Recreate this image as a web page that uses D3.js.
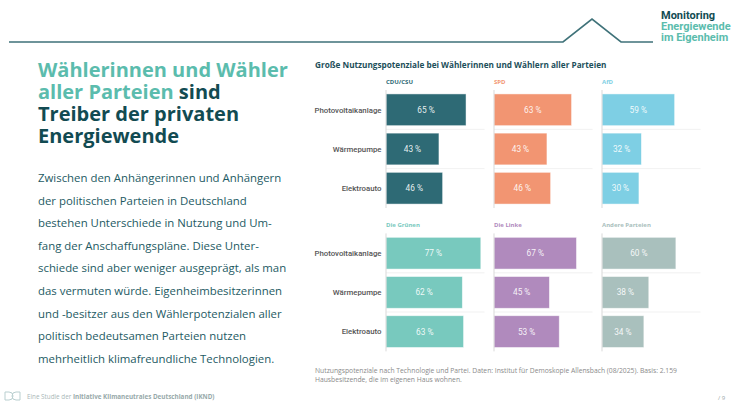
<!DOCTYPE html>
<html>
<head>
  <meta charset="utf-8">
  <title>Monitoring Energiewende im Eigenheim</title>
  <script src="https://d3js.org/d3.v7.min.js"></script>
  <style>
    body { margin: 0; background: #fff; }
    svg { display: block; }
  </style>
</head>
<body>
  <svg width="750" height="409"></svg>
  <script>
    // data
    const technologies = ["Photovoltaikanlage", "Wärmepumpe", "Elektroauto"];
    const parties = ["CDU/CSU", "SPD", "AfD", "Die Grünen", "Die Linke", "Andere Parteien"];
    const partyColors = ["#2e6a75", "#f29572", "#7ecfe4", "#78c9be", "#b08abd", "#a9c0bd"];
    const cduValues = [65, 43, 46];
    const spdValues = [63, 43, 46];
    const afdValues = [59, 32, 30];
    const greenValues = [77, 62, 63];
    const linkeValues = [67, 45, 53];
    const otherValues = [60, 38, 34];
    const seriesValues = [cduValues, spdValues, afdValues, greenValues, linkeValues, otherValues];

    const titleLines = [
      [["Wählerinnen und Wähler", "#5bbcad"]],
      [["aller Parteien ", "#5bbcad"], ["sind", "#124b52"]],
      [["Treiber der privaten", "#124b52"]],
      [["Energiewende", "#124b52"]]
    ];
    const bodyLines = [
      "Zwischen den Anhängerinnen und Anhängern",
      "der politischen Parteien in Deutschland",
      "bestehen Unterschiede in Nutzung und Um-",
      "fang der Anschaffungspläne. Diese Unter-",
      "schiede sind aber weniger ausgeprägt, als man",
      "das vermuten würde. Eigenheimbesitzerinnen",
      "und -besitzer aus den Wählerpotenzialen aller",
      "politisch bedeutsamen Parteien nutzen",
      "mehrheitlich klimafreundliche Technologien."
    ];
    const chartTitle = "Große Nutzungspotenziale bei Wählerinnen und Wählern aller Parteien";
    const noteLines = [
      "Nutzungspotenziale nach Technologie und Partei. Daten: Institut für Demoskopie Allensbach (08/2025). Basis: 2.159",
      "Hausbesitzende, die im eigenen Haus wohnen."
    ];

    const svg = d3.select("svg");

    // header line with the little roof
    svg.append("path")
      .attr("d", "M9,42 L563,42 L592,19 L621,42 L653,42")
      .attr("fill", "none")
      .attr("stroke", "#3f7279")
      .attr("stroke-width", 1.6);

    const logo = svg.append("g")
      .attr("font-family", "Roboto, sans-serif")
      .attr("font-weight", 700)
      .attr("font-size", 11);
    logo.append("text").attr("x", 661).attr("y", 18.5).attr("fill", "#124b52").text("Monitoring");
    logo.append("text").attr("x", 661).attr("y", 29.5).attr("fill", "#5bbcad").text("Energiewende");
    logo.append("text").attr("x", 661).attr("y", 40.5).attr("fill", "#5bbcad").text("im Eigenheim");

    // left headline
    const head = svg.append("g")
      .attr("font-family", "'Open Sans', sans-serif")
      .attr("font-weight", 700)
      .attr("font-size", 20);
    titleLines.forEach((parts, i) => {
      const t = head.append("text").attr("x", 38).attr("y", 76.5 + i * 22.3);
      parts.forEach(p => t.append("tspan").attr("fill", p[1]).text(p[0]));
    });

    // body text
    svg.append("g")
      .attr("font-family", "'Open Sans', sans-serif")
      .attr("font-size", 11.4)
      .attr("fill", "#1d5a63")
      .selectAll("text")
      .data(bodyLines)
      .join("text")
      .attr("x", 38)
      .attr("y", (d, i) => 182 + i * 22.6)
      .text(d => d);

    // chart title
    svg.append("text")
      .attr("x", 315)
      .attr("y", 68)
      .attr("font-family", "'Open Sans', sans-serif")
      .attr("font-weight", 700)
      .attr("font-size", 8.2)
      .attr("fill", "#1d4f5a")
      .text(chartTitle);

    // small multiples
    const x = d3.scaleLinear().domain([0, 80]).range([0, 98.5]);
    const colX = d3.scalePoint().domain([0, 1, 2]).range([386, 602]);
    const rowTop = [90, 233.4];

    seriesValues.forEach((values, pi) => {
      const col = pi % 3, row = Math.floor(pi / 3);
      const y = d3.scaleBand()
        .domain(technologies)
        .range([rowTop[row], rowTop[row] + 118])
        .paddingInner(0.19)
        .paddingOuter(0.1);
      const g = svg.append("g").attr("transform", `translate(${colX(col)},0)`);

      g.append("text")
        .attr("x", 0)
        .attr("y", rowTop[row] - 6)
        .attr("font-family", "'Open Sans', sans-serif")
        .attr("font-weight", 700)
        .attr("font-size", 6)
        .attr("fill", partyColors[pi])
        .text(parties[pi]);

      // separators between rows
      g.selectAll("line.sep")
        .data(technologies.slice(1))
        .join("line")
        .attr("class", "sep")
        .attr("x1", 0)
        .attr("x2", x(80))
        .attr("y1", d => y(d) - y.step() * y.paddingInner() / 2)
        .attr("y2", d => y(d) - y.step() * y.paddingInner() / 2)
        .attr("stroke", "#eeeeee")
        .attr("stroke-width", 0.8);

      g.selectAll("rect")
        .data(values)
        .join("rect")
        .attr("x", 0)
        .attr("y", (d, i) => y(technologies[i]))
        .attr("width", d => x(d))
        .attr("height", y.bandwidth())
        .attr("fill", partyColors[pi])
        .attr("stroke", "#ffffff")
        .attr("stroke-opacity", 0.6)
        .attr("stroke-width", 0.8);

      g.append("line")
        .attr("x1", 0).attr("x2", 0)
        .attr("y1", rowTop[row]).attr("y2", rowTop[row] + 118)
        .attr("stroke", "#d9d9d9")
        .attr("stroke-width", 1);

      g.selectAll("text.val")
        .data(values)
        .join("text")
        .attr("class", "val")
        .attr("x", d => x(d) / 2)
        .attr("y", (d, i) => y(technologies[i]) + y.bandwidth() / 2 + 3)
        .attr("text-anchor", "middle")
        .attr("font-family", "Roboto, sans-serif")
        .attr("font-size", 8.3)
        .attr("fill", "#ffffff")
        .attr("fill-opacity", 0.9)
        .text(d => `${d} %`);

      if (col === 0) {
        svg.selectAll(null)
          .data(technologies)
          .join("text")
          .attr("x", 381.5)
          .attr("y", d => y(d) + y.bandwidth() / 2 + 2.8)
          .attr("text-anchor", "end")
          .attr("font-family", "Roboto, sans-serif")
          .attr("font-weight", 500)
          .attr("font-size", 7.8)
          .attr("fill", "#555555")
          .text(d => d);
      }
    });

    // footnote
    svg.append("g")
      .attr("font-family", "'Open Sans', sans-serif")
      .attr("font-size", 6.75)
      .attr("fill", "#8a8a8a")
      .selectAll("text")
      .data(noteLines)
      .join("text")
      .attr("x", 315)
      .attr("y", (d, i) => 372.5 + i * 9.5)
      .text(d => d);

    svg.append("text")
      .attr("x", 718).attr("y", 400)
      .attr("font-family", "'Open Sans', sans-serif")
      .attr("font-size", 6)
      .attr("fill", "#9aa7a8")
      .text("/ 9");

    // footer logo + credit
    svg.append("path")
      .attr("d", "M5,392 h4 a4,4 0 0 1 0,8 h-4 z M20,392 h-4 a4,4 0 0 0 0,8 h4 z")
      .attr("fill", "none")
      .attr("stroke", "#b9cfd0")
      .attr("stroke-width", 1);
    const credit = svg.append("text")
      .attr("x", 27).attr("y", 398.5)
      .attr("font-family", "'Open Sans', sans-serif")
      .attr("font-size", 6.3)
      .attr("fill", "#a9b7b8");
    credit.append("tspan").text("Eine Studie der ");
    credit.append("tspan").attr("font-weight", 700).attr("fill", "#97a9aa").text("Initiative Klimaneutrales Deutschland (IKND)");
  </script>
</body>
</html>
